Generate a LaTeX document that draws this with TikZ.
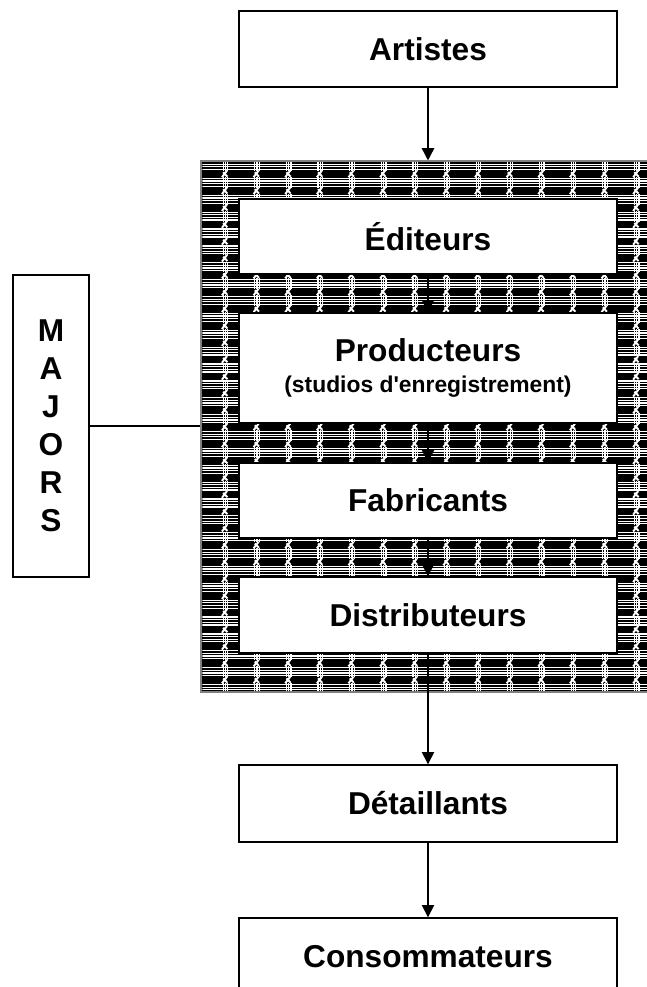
\documentclass[tikz,border=0pt]{standalone}
\usepackage{fontspec}
\setmainfont{Liberation Sans}
\usepackage{tikz}
\usetikzlibrary{arrows.meta}
\usetikzlibrary{patterns}

% trame du cadre des majors
\pgfdeclarepatternformonly{trame}{\pgfqpoint{-1pt}{-1pt}}{\pgfqpoint{19pt}{10.6pt}}{\pgfqpoint{18pt}{9.6pt}}{
  \pgfsetlinewidth{0.7pt}
  \pgfpathmoveto{\pgfqpoint{0pt}{4.4pt}}\pgfpathlineto{\pgfqpoint{18pt}{4.4pt}}
  \pgfpathmoveto{\pgfqpoint{0pt}{5.9pt}}\pgfpathlineto{\pgfqpoint{18pt}{5.9pt}}
  \pgfpathmoveto{\pgfqpoint{0pt}{7.4pt}}\pgfpathlineto{\pgfqpoint{18pt}{7.4pt}}
  \pgfpathmoveto{\pgfqpoint{0pt}{8.9pt}}\pgfpathlineto{\pgfqpoint{18pt}{8.9pt}}
  \pgfpathmoveto{\pgfqpoint{1pt}{3.6pt}}\pgfpathlineto{\pgfqpoint{1pt}{9.6pt}}
  \pgfpathmoveto{\pgfqpoint{2.3pt}{3.6pt}}\pgfpathlineto{\pgfqpoint{2.3pt}{9.6pt}}
  \pgfpathmoveto{\pgfqpoint{3.6pt}{3.6pt}}\pgfpathlineto{\pgfqpoint{3.6pt}{9.6pt}}
  \pgfusepath{stroke}
  \pgfsetlinewidth{1.1pt}
  \pgfpathmoveto{\pgfqpoint{0.3pt}{0pt}}\pgfpathlineto{\pgfqpoint{3.2pt}{3.8pt}}
  \pgfpathmoveto{\pgfqpoint{3.4pt}{0.3pt}}\pgfpathlineto{\pgfqpoint{1pt}{2.8pt}}
  \pgfusepath{stroke}
}

\tikzset{
  boite/.style={draw, line width=0.8pt, fill=white, minimum width=7.56cm,
    inner sep=0pt, font=\bfseries\fontsize{18}{20}\selectfont},
  fleche/.style={line width=0.85pt, -{Triangle[width=7pt,length=7pt]}}
}

\begin{document}
\begin{tikzpicture}
\useasboundingbox (0,0) rectangle (12.94,-19.74);
\clip (0,0) rectangle (12.94,-19.74);

% cadre
\node[draw=gray, line width=0.6pt, fill=black, minimum width=9.18cm,
  minimum height=10.62cm, inner sep=0pt] (cadre) at (8.61,-8.53) {};
\fill[pattern=trame, pattern color=white]
  ([shift={(0.04,-0.04)}]cadre.north west) rectangle ([shift={(-0.04,0.04)}]cadre.south east);

\node[boite, minimum height=1.52cm] (artistes) at (8.56,-0.98) {Artistes};
\node[boite, minimum height=1.5cm] (editeurs) at (8.56,-4.73) {Éditeurs};
\node[boite, minimum height=2.2cm, align=center] (producteurs) at (8.56,-7.36)
  {Producteurs\\[-2pt]{\fontsize{13}{15}\selectfont (studios d\textquotesingle enregistrement)}};
\node[boite, minimum height=1.5cm] (fabricants) at (8.56,-10.01) {Fabricants};
\node[boite, minimum height=1.52cm] (distributeurs) at (8.56,-12.3) {Distributeurs};
\node[boite, minimum height=1.54cm] (detaillants) at (8.56,-16.07) {Détaillants};
\node[boite, minimum height=1.54cm] (consommateurs) at (8.56,-19.13) {Consommateurs};

\node[draw, line width=0.8pt, fill=white, minimum width=1.52cm, minimum height=6.04cm,
  align=center, font=\bfseries\fontsize{18}{21.6}\selectfont] (majors) at (1.02,-8.52)
  {M\\A\\J\\O\\R\\S};

\draw[line width=0.85pt] (majors.east) -- (majors.east -| cadre.west);

\draw[fleche] (artistes.south) -- (artistes.south |- cadre.north);
\draw[fleche] (editeurs.south) -- (producteurs.north);
\draw[fleche] (producteurs.south) -- (fabricants.north);
\draw[fleche] (fabricants.south) -- (distributeurs.north);
\draw[fleche] (distributeurs.south) -- (detaillants.north);
\draw[fleche] (detaillants.south) -- (consommateurs.north);

\end{tikzpicture}
\end{document}
